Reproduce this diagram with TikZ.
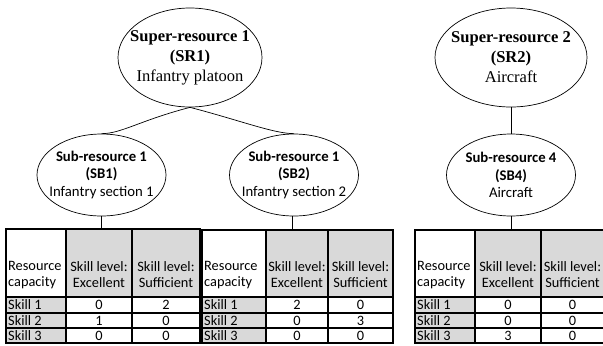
\documentclass[tikz,border=0pt]{standalone}
\usepackage{fontspec}
\setmainfont{Liberation Serif}
\newfontfamily\calfont{Carlito}
\usetikzlibrary{shapes.geometric}
\definecolor{cellgray}{HTML}{D9D9D9}
\begin{document}
\begin{tikzpicture}[x=1bp,y=-1bp,
  super/.style={ellipse, draw, line width=0.7bp, minimum width=144bp, minimum height=99bp, inner sep=0},
  sub/.style={ellipse, draw, line width=0.7bp, minimum width=129bp, minimum height=82bp, inner sep=0},
  suptxt/.style={align=center, inner sep=0, font=\fontsize{16.6}{20}\selectfont},
  subtxt/.style={align=center, inner sep=0, font=\calfont\fontsize{14.8}{17.5}\selectfont},
  conn/.style={line width=0.7bp},
  cell/.style={font=\calfont\fontsize{14.4}{16}\selectfont, inner sep=1bp},
  gridline/.style={line width=1.1bp}
]
\useasboundingbox (0,0) rectangle (603,345);

\node[super, label={[suptxt]center:{\textbf{Super-resource 1}\\\textbf{(SR1)}\\Infantry platoon}}] (SR1) at (190,57.5) {};
\node[super, minimum width=152bp, label={[suptxt]center:{\textbf{Super-resource 2}\\\textbf{(SR2)}\\Aircraft}}] (SR2) at (511,57.5) {};

\node[sub, label={[subtxt]center:{\textbf{Sub-resource 1}\\\textbf{(SB1)}\\Infantry section 1}}] (SB1) at (101.5,175) {};
\node[sub, label={[subtxt]center:{\textbf{Sub-resource 1}\\\textbf{(SB2)}\\Infantry section 2}}] (SB2) at (294,175) {};
\node[sub, label={[subtxt]center:{\textbf{Sub-resource 4}\\\textbf{(SB4)}\\Aircraft}}] (SB4) at (511,175) {};

\draw[conn] (SR1.south) .. controls +(-50,13) and +(20,0) .. (SB1.north);
\draw[conn] (SR1.south) .. controls +(50,13) and +(-20,0) .. (SB2.north);
\draw[conn] (SR2.south) -- (SB4.north);

\foreach \i/\xa/\xb/\xc/\xd/\ya/\va/\vb/\vc/\vd/\ve/\vf in
  {1/6/66/132/200/229/0/2/1/0/0/0,
   2/202/266/328/393/230/2/0/0/3/0/0,
   3/415/475/541/604/230/0/0/0/0/3/0}{
  \fill[cellgray] (\xb,\ya) rectangle (\xd,297);
  \fill[cellgray] (\xa,297) rectangle (\xb,343);
  \draw[gridline] (\xa,\ya) rectangle (\xd,343);
  \draw[gridline] (\xb,\ya) -- (\xb,343) (\xc,\ya) -- (\xc,343);
  \draw[gridline] (\xa,297) -- (\xd,297) (\xa,313) -- (\xd,313) (\xa,328) -- (\xd,328);
  \node[cell, align=left, anchor=west] (t\i-rc) at (\xa+1,275) {Resource\\capacity};
  \node[cell, align=center] (t\i-ex) at ({(\xb+\xc)/2},275) {Skill level:\\Excellent};
  \node[cell, align=center] (t\i-su) at ({(\xc+\xd)/2},275) {Skill level:\\Sufficient};
  \node[cell, anchor=west] (t\i-s1) at (\xa+1,305) {Skill 1};
  \node[cell, anchor=west] (t\i-s2) at (\xa+1,320.5) {Skill 2};
  \node[cell, anchor=west] (t\i-s3) at (\xa+1,335.5) {Skill 3};
  \node[cell] (t\i-a1) at ({(\xb+\xc)/2},305) {\va};
  \node[cell] (t\i-b1) at ({(\xc+\xd)/2},305) {\vb};
  \node[cell] (t\i-a2) at ({(\xb+\xc)/2},320.5) {\vc};
  \node[cell] (t\i-b2) at ({(\xc+\xd)/2},320.5) {\vd};
  \node[cell] (t\i-a3) at ({(\xb+\xc)/2},335.5) {\ve};
  \node[cell] (t\i-b3) at ({(\xc+\xd)/2},335.5) {\vf};
}
\coordinate (T1top) at (0,229);
\coordinate (T2top) at (0,230);
\coordinate (T3top) at (0,230);
\draw[conn] (SB1.south) -- (SB1.south |- T1top);
\draw[conn] ([xshift=-2bp]SB2.south) -- ([xshift=-2bp]SB2.south |- T2top);
\draw[conn] (SB4.south) -- (SB4.south |- T3top);
\end{tikzpicture}
\end{document}
